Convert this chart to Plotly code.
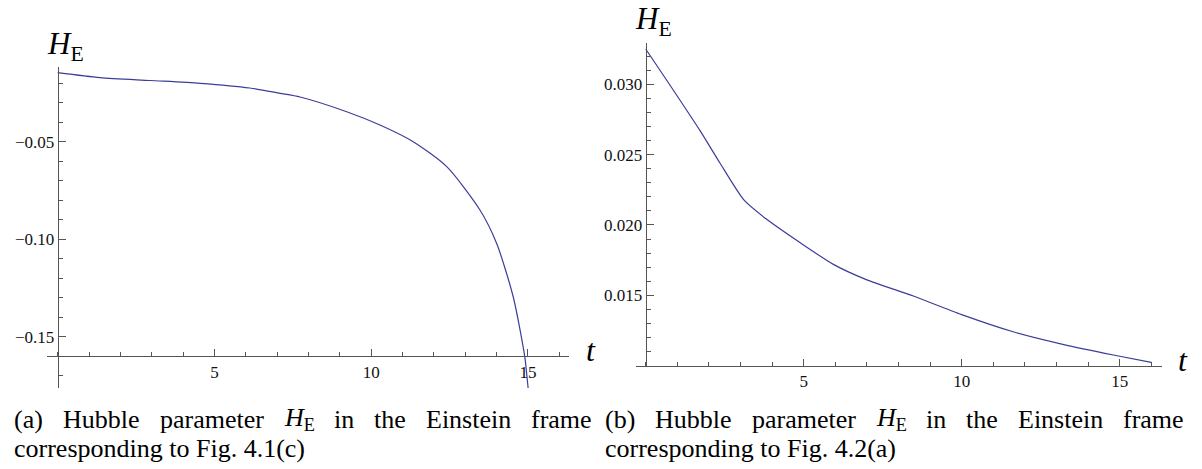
import plotly.graph_objects as go

# ---------------- data ----------------
t_a = [0, 1.35, 2.94, 4.54, 6.13, 7.09, 7.73, 9.22, 10.28, 11.34, 12.41, 13.47, 14.00, 14.53, 14.90, 14.98, 15.03]
h_a = [-0.01462, -0.01718, -0.01862, -0.02005, -0.02246, -0.02518, -0.02708, -0.03462, -0.04144,
       -0.0500, -0.06282, -0.08503, -0.1021, -0.1295, -0.1603, -0.1722, -0.1800]

t_b = [0, 0.66, 1.72, 2.35, 3.10, 3.83, 4.88, 5.94, 7.00, 8.05, 8.47, 10.0, 11.63, 13.2, 14.8, 16.0]
h_b = [0.0325, 0.0303, 0.0267, 0.0244, 0.0218, 0.0204, 0.01875, 0.0172, 0.0161, 0.01528, 0.01495,
       0.01363, 0.01241, 0.01152, 0.01076, 0.01024]

x_major = [5, 10, 15]
ya_major = [-0.15, -0.10, -0.05]
ya_labels = ["\u22120.15", "\u22120.10", "\u22120.05"]
yb_major = [0.015, 0.020, 0.025, 0.030]
yb_labels = ["0.015", "0.020", "0.025", "0.030"]

caption_a_words = ["(a)", "Hubble", "parameter", "<i>H</i><sub>E</sub>", "in", "the", "Einstein", "frame"]
caption_b_words = ["(b)", "Hubble", "parameter", "<i>H</i><sub>E</sub>", "in", "the", "Einstein", "frame"]
caption_a_line2 = "corresponding to Fig. 4.1(c)"
caption_b_line2 = "corresponding to Fig. 4.2(a)"

# ---------------- layout geometry (pixels) ----------------
W, H = 1202, 469
def px(x):
    return x / W
def py(y):
    return 1 - y / H

xa_range = [-0.341, 16.31]
ya_range = [-0.1763, -0.0117]
xa_dom = [px(47), px(569)]
ya_dom = [py(388), py(67)]
ya_cross = -0.16  # x-axis drawn at this H value

xb_range = [-0.316, 16.33]
yb_range = [0.0100, 0.03295]
xb_dom = [px(635.7), px(1161.7)]
yb_dom = [py(365.7), py(42.7)]

def pos_in(dom, rng, v):
    return dom[0] + (v - rng[0]) / (rng[1] - rng[0]) * (dom[1] - dom[0])

LINE = "#3d3d99"
AX = "#555555"
FONT = "Times New Roman, Liberation Serif, DejaVu Serif, serif"
tickfont = dict(family=FONT, size=17, color="#111111")

fig = go.Figure()
fig.add_trace(go.Scatter(x=t_a, y=h_a, mode="lines",
                         line=dict(color=LINE, width=1.2, shape="spline", smoothing=0.7),
                         xaxis="x", yaxis="y", showlegend=False, hoverinfo="skip"))
fig.add_trace(go.Scatter(x=t_b, y=h_b, mode="lines",
                         line=dict(color=LINE, width=1.2, shape="spline", smoothing=0.6),
                         xaxis="x2", yaxis="y2", showlegend=False, hoverinfo="skip"))

common = dict(showgrid=False, zeroline=False, showline=True, linecolor=AX, linewidth=1,
              ticks="inside", ticklen=7, tickwidth=1, tickcolor=AX, tickfont=tickfont,
              fixedrange=True)

fig.update_layout(
    width=W, height=H, margin=dict(l=0, r=0, t=0, b=0),
    paper_bgcolor="white", plot_bgcolor="white",
    font=dict(family=FONT),
    xaxis=dict(domain=xa_dom, range=xa_range, anchor="free",
               position=pos_in(ya_dom, ya_range, ya_cross),
               tickmode="array", tickvals=x_major,
               minor=dict(ticks="inside", ticklen=4, tickcolor=AX, dtick=1, tick0=0),
               **common),
    yaxis=dict(domain=ya_dom, range=ya_range, anchor="free",
               position=pos_in(xa_dom, xa_range, 0),
               tickmode="array", tickvals=ya_major, ticktext=ya_labels,
               minor=dict(ticks="inside", ticklen=4, tickcolor=AX, dtick=0.01, tick0=0),
               **common),
    xaxis2=dict(domain=xb_dom, range=xb_range, anchor="free",
                position=yb_dom[0],
                tickmode="array", tickvals=x_major,
                minor=dict(ticks="inside", ticklen=4, tickcolor=AX, dtick=1, tick0=0),
                **common),
    yaxis2=dict(domain=yb_dom, range=yb_range, anchor="free",
                position=pos_in(xb_dom, xb_range, 0),
                tickmode="array", tickvals=yb_major, ticktext=yb_labels,
                minor=dict(ticks="inside", ticklen=4, tickcolor=AX, dtick=0.001, tick0=0),
                **common),
)

ann = []
def text(x, y, s, size, xanchor="left", yanchor="middle"):
    ann.append(dict(x=px(x), y=py(y), xref="paper", yref="paper", text=s, showarrow=False,
                    xanchor=xanchor, yanchor=yanchor,
                    font=dict(family=FONT, size=size, color="black")))

# axis labels
text(45, 46, "<i>H</i><sub>E</sub>", 31)
text(633, 21, "<i>H</i><sub>E</sub>", 31)
text(584, 350, "<i>t</i>", 32)
text(1176, 360, "<i>t</i>", 32)

# captions: first line justified between the column edges (approximate Times advance widths, em)
ADV = {"(": .333, ")": .333, "a": .444, "b": .5, "c": .444, "d": .5, "e": .444, "f": .333,
       "g": .5, "h": .5, "i": .278, "l": .278, "m": .778, "n": .5, "p": .5, "r": .333,
       "s": .389, "t": .278, "u": .5, "E": .611, "H": .722}
def word_width(w, size):
    if "<sub>" in w:
        return (ADV["H"] + 0.7 * ADV["E"]) * size
    return sum(ADV.get(ch, .5) for ch in w) * size

CAP = 26
def justified(words, x0, x1, y):
    widths = [word_width(w, CAP) for w in words]
    gap = (x1 - x0 - sum(widths)) / (len(words) - 1)
    x = x0
    for w, wd in zip(words, widths):
        text(x, y, w, CAP)
        x += wd + gap

justified(caption_a_words, 12, 590, 419)
justified(caption_b_words, 603, 1182, 419)
text(12, 448, caption_a_line2, CAP)
text(603, 448, caption_b_line2, CAP)

fig.update_layout(annotations=ann)
fig.write_html("out.html")
